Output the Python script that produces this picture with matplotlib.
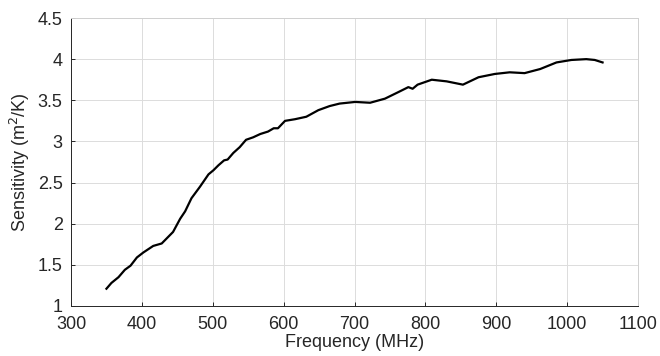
import matplotlib.pyplot as plt

# Sensitivity curve
freq = [350, 357, 367, 376, 384, 393, 402, 416, 428, 444, 454, 461, 470, 482,
        494, 501, 508, 516, 521, 529, 538, 547, 557, 567, 578, 586, 592, 602,
        616, 632, 649, 665, 679, 701, 722, 743, 762, 776, 782, 789, 809, 830,
        853, 875, 898, 919, 940, 962, 985, 1006, 1027, 1039, 1050]
sens = [1.21, 1.28, 1.35, 1.44, 1.49, 1.59, 1.65, 1.73, 1.76, 1.90, 2.06, 2.15,
        2.31, 2.45, 2.60, 2.65, 2.71, 2.77, 2.78, 2.86, 2.93, 3.02, 3.05, 3.09,
        3.12, 3.16, 3.16, 3.25, 3.27, 3.30, 3.38, 3.43, 3.46, 3.48, 3.47, 3.52,
        3.60, 3.66, 3.64, 3.69, 3.75, 3.73, 3.69, 3.78, 3.82, 3.84, 3.83, 3.88,
        3.96, 3.99, 4.00, 3.99, 3.96]

xticks = [300, 400, 500, 600, 700, 800, 900, 1000, 1100]
yticks = [1, 1.5, 2, 2.5, 3, 3.5, 4, 4.5]

plt.rcParams['font.family'] = ['Liberation Sans', 'DejaVu Sans']

fig = plt.figure(figsize=(6.6, 3.56), dpi=100)
ax = fig.add_axes([71 / 660, 50 / 356, 567 / 660, 288 / 356])

ax.plot(freq, sens, color='black', lw=1.6)

ax.set_xlim(300, 1100)
ax.set_ylim(1, 4.5)
ax.set_xticks(xticks)
ax.set_yticks(yticks)
ax.set_yticklabels(['1', '1.5', '2', '2.5', '3', '3.5', '4', '4.5'])
ax.grid(True, color='#dcdcdc', lw=0.7)
ax.set_axisbelow(True)

ax.tick_params(direction='in', length=3, colors='#262626', labelsize=13, width=0.7)
ax.tick_params(axis='y', pad=6)
ax.tick_params(axis='x', pad=7)
for s in ['left', 'bottom']:
    ax.spines[s].set_color('#262626')
    ax.spines[s].set_linewidth(0.7)
for s in ['top', 'right']:
    ax.spines[s].set_color('#d0d0d0')
    ax.spines[s].set_linewidth(0.7)

ax.set_xlabel('Frequency (MHz)', fontsize=13, color='#262626', labelpad=1)
ax.set_ylabel('Sensitivity (m$^2$/K)', fontsize=13, color='#262626', labelpad=4)

plt.savefig('out.png', dpi=100)
